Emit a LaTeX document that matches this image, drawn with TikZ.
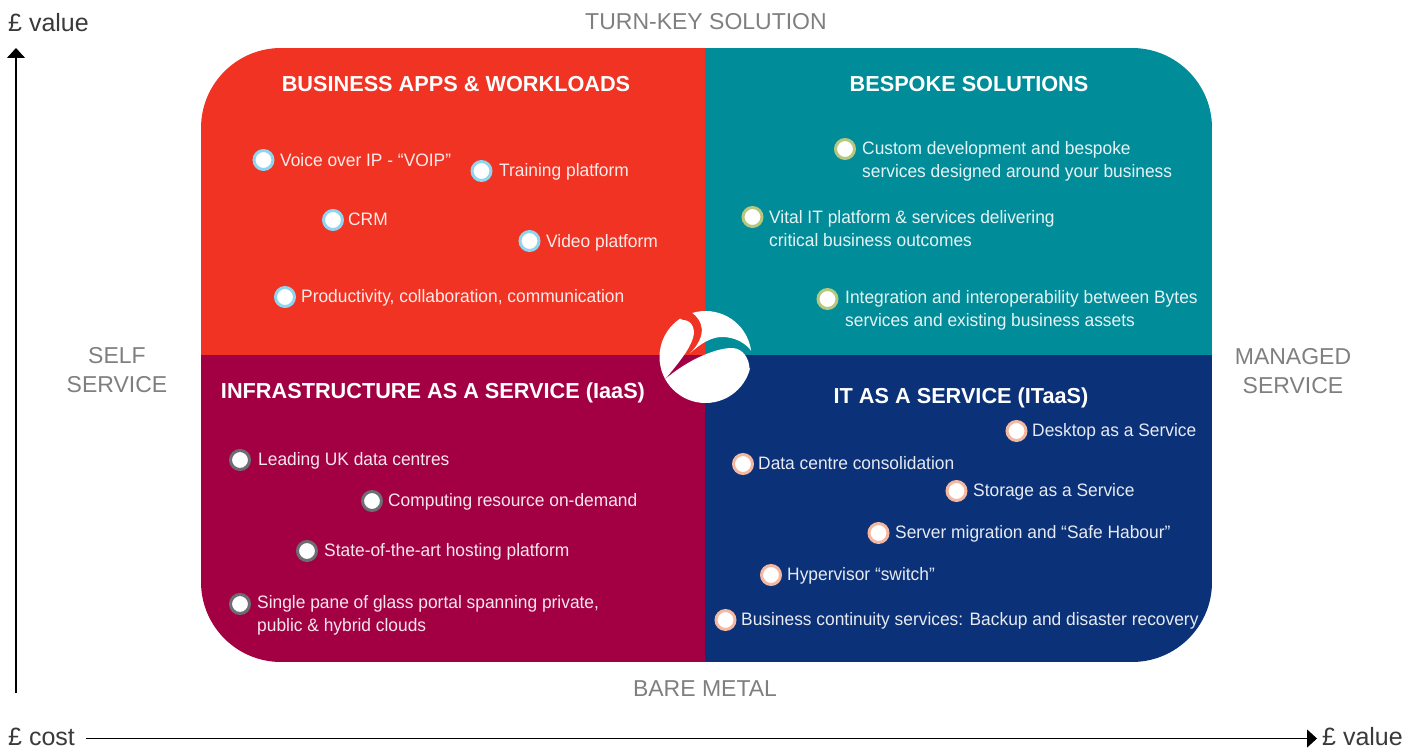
\documentclass[tikz,border=0pt]{standalone}
\usepackage{fontspec}
\setmainfont{Liberation Sans}
\newfontfamily\bodyfont[FakeStretch=0.965]{Liberation Sans}
\usetikzlibrary{arrows.meta}
\definecolor{cRed}{HTML}{F03323}
\definecolor{cTeal}{HTML}{008C99}
\definecolor{cCrim}{HTML}{A30044}
\definecolor{cNavy}{HTML}{0B3179}
\definecolor{rBlue}{HTML}{8ED6F0}
\definecolor{rGreen}{HTML}{B7C77F}
\definecolor{rGrey}{HTML}{6D6E71}
\definecolor{rPeach}{HTML}{F4B8A0}
\definecolor{labGrey}{HTML}{7F7F7F}
\definecolor{axText}{HTML}{3A3A3A}
\tikzset{
  x=1pt,y=-1pt,
  item/.style={anchor=west,inner sep=0pt,text=white,text opacity=.9,align=left,yshift=-1.5pt,font=\fontsize{18}{23}\bodyfont},
  title/.style={inner sep=0pt,text=white,font=\fontsize{21.7}{25}\selectfont\bfseries},
  bull/.style={circle,fill=white,draw=#1,line width=3pt,minimum size=19pt,inner sep=0pt},
  side/.style={inner sep=0pt,text=labGrey,align=center,font=\fontsize{23}{29}\selectfont},
  axlab/.style={inner sep=0pt,text=axText,font=\fontsize{25}{29}\selectfont},
  axis/.style={line width=1.2pt,-{Triangle[length=10pt,width=18pt]}}
}
\begin{document}
\begin{tikzpicture}
\useasboundingbox (0,0) rectangle (1420,749);
\begin{scope}
  \clip[rounded corners=80pt] (201,48) rectangle (1212,662);
  \fill[cRed] (201,48) rectangle (705,355);
  \fill[cTeal] (705,48) rectangle (1212,355);
  \fill[cCrim] (201,355) rectangle (705,662);
  \fill[cNavy] (705,355) rectangle (1212,662);
\end{scope}
% logo
\begin{scope}
  \clip (705.5,357) circle (46);
  \fill[white] (665,379.3) .. controls (677,365) and (690,349) .. (693,338)
     .. controls (696,328) and (691,320) .. (683,320)
     -- (640,300) -- (640,400) -- cycle;
  \fill[white] (691,312) .. controls (703,320) and (708,335) .. (690,353.3)
     .. controls (700,344) and (711,337) .. (722,337)
     .. controls (735,337) and (746,343) .. (752,352)
     -- (770,352) -- (770,290) -- (691,290) -- cycle;
  \fill[white] (665,379.3) .. controls (690,358) and (718,347.5) .. (733,348)
     .. controls (743,349) and (749,358) .. (749.5,368.5)
     -- (770,368) -- (770,420) -- (640,420) -- (640,395) -- cycle;
\end{scope}
% titles
\node[title] (t1) at (456,84.5) {BUSINESS APPS \& WORKLOADS};
\node[title] (t2) at (969,84.5) {BESPOKE SOLUTIONS};
\node[title] (t3) at (433,393) {INFRASTRUCTURE AS A SERVICE (IaaS)};
\node[title] (t4) at (961,398) {IT AS A SERVICE (ITaaS)};
% red
\node[bull=rBlue] (a1) at (263.5,160) {}; \node[item] (a1t) at (280,159) {Voice over IP - “VOIP”};
\node[bull=rBlue] (a2) at (481.5,171) {}; \node[item] (a2t) at (499,170) {Training platform};
\node[bull=rBlue] (a3) at (333,220) {}; \node[item] (a3t) at (348,218) {CRM};
\node[bull=rBlue] (a4) at (529.5,241) {}; \node[item] (a4t) at (546,241) {Video platform};
\node[bull=rBlue] (a5) at (285,297) {}; \node[item] (a5t) at (301,296) {Productivity, collaboration, communication};
% teal
\node[bull=rGreen] (b1) at (845,149) {}; \node[item] (b1t) at (862,160) {Custom development and bespoke\\services designed around your business};
\node[bull=rGreen] (b2) at (752.5,217) {}; \node[item] (b2t) at (769,227) {Vital IT platform \& services delivering\\critical business outcomes};
\node[bull=rGreen] (b3) at (827.5,299) {}; \node[item] (b3t) at (845,308.5) {Integration and interoperability between Bytes\\services and existing business assets};
% crimson
\node[bull=rGrey] (c1) at (240,460) {}; \node[item] (c1t) at (258,459) {Leading UK data centres};
\node[bull=rGrey] (c2) at (372,501) {}; \node[item] (c2t) at (388,500) {Computing resource on-demand};
\node[bull=rGrey] (c3) at (307,551) {}; \node[item] (c3t) at (324,550) {State-of-the-art hosting platform};
\node[bull=rGrey] (c4) at (240,604) {}; \node[item] (c4t) at (257,614) {Single pane of glass portal spanning private,\\public \& hybrid clouds};
% navy
\node[bull=rPeach] (d1) at (1016.5,431) {}; \node[item] (d1t) at (1032,430) {Desktop as a Service};
\node[bull=rPeach] (d2) at (743,464) {}; \node[item] (d2t) at (758,462) {Data centre consolidation};
\node[bull=rPeach] (d3) at (956.5,491) {}; \node[item] (d3t) at (973,490) {Storage as a Service};
\node[bull=rPeach] (d4) at (878.5,533) {}; \node[item] (d4t) at (895,532) {Server migration and “Safe Habour”};
\node[bull=rPeach] (d5) at (771,575) {}; \node[item] (d5t) at (787,574) {Hypervisor “switch”};
\node[bull=rPeach] (d6) at (725.5,620) {}; \node[item] (d6t) at (741,619) {Business continuity services: Backup and disaster recovery};
% side labels
\node[side] (top) at (706,22) {TURN-KEY SOLUTION};
\node[side] (bot) at (705,689) {BARE METAL};
\node[side] (lft) at (117,370) {SELF\\SERVICE};
\node[side] (rgt) at (1293,371) {MANAGED\\SERVICE};
% axes
\node[axlab,anchor=west] (v1) at (8,23) {£ value};
\node[axlab,anchor=west] (c) at (8,737) {£ cost};
\node[axlab,anchor=west] (v2) at (1322,737) {£ value};
\coordinate (vs) at (16,693);
\coordinate (ve) at (16,48);
\coordinate (hs) at (86,738.5);
\coordinate (he) at (1317,738.5);
\draw[axis] (vs) -- (ve);
\draw[axis] (hs) -- (he);
\end{tikzpicture}
\end{document}
